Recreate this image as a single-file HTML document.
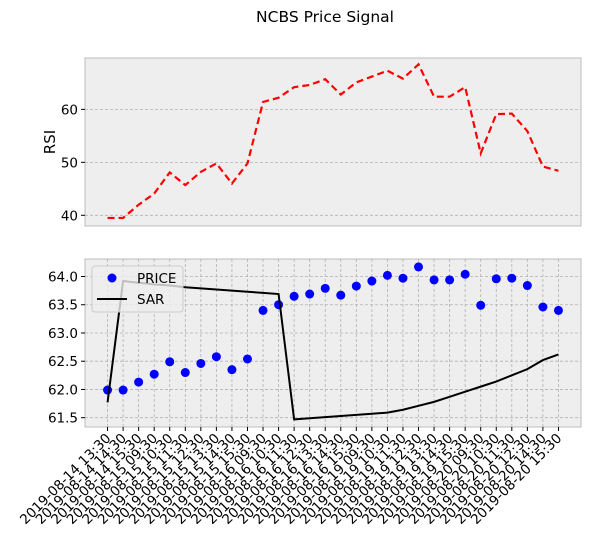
<!DOCTYPE html>
<html><head><meta charset="utf-8"><style>
body{margin:0;background:#fff;}
svg{display:block;font-family:"DejaVu Sans","Liberation Sans",sans-serif;}
</style></head><body>
<svg id="c" width="591" height="540"></svg>
<script>
const labels=["2019-08-14 13:30","2019-08-14 14:30","2019-08-14 15:30",
"2019-08-15 09:30","2019-08-15 10:30","2019-08-15 11:30","2019-08-15 12:30","2019-08-15 13:30","2019-08-15 14:30","2019-08-15 15:30",
"2019-08-16 09:30","2019-08-16 10:30","2019-08-16 11:30","2019-08-16 12:30","2019-08-16 13:30","2019-08-16 14:30","2019-08-16 15:30",
"2019-08-19 09:30","2019-08-19 10:30","2019-08-19 11:30","2019-08-19 12:30","2019-08-19 13:30","2019-08-19 14:30","2019-08-19 15:30",
"2019-08-20 09:30","2019-08-20 10:30","2019-08-20 11:30","2019-08-20 12:30","2019-08-20 14:30","2019-08-20 15:30"];
const rsi=[39.5,39.5,42.0,44.1,48.1,45.7,48.2,49.8,46.0,49.8,61.4,62.2,64.2,64.6,65.7,62.8,65.1,66.2,67.3,65.8,68.5,62.4,62.4,64.2,51.7,59.1,59.2,55.9,49.2,48.4];
const price=[61.99,61.99,62.13,62.27,62.49,62.30,62.46,62.58,62.35,62.54,63.40,63.50,63.65,63.69,63.79,63.67,63.83,63.92,64.02,63.97,64.17,63.94,63.94,64.04,63.49,63.96,63.97,63.84,63.46,63.40];
const sar=[61.77,63.92,63.89,63.86,63.84,63.81,63.79,63.77,63.75,63.73,63.71,63.69,61.47,61.49,61.51,61.53,61.55,61.57,61.59,61.64,61.71,61.78,61.87,61.96,62.05,62.14,62.25,62.36,62.52,62.62];
const rsiTicks=[40,50,60];
const priceTicks=[61.5,62.0,62.5,63.0,63.5,64.0];

const NS="http://www.w3.org/2000/svg";
const svg=document.getElementById('c');
function el(t,a,p){const e=document.createElementNS(NS,t);for(const k in a)e.setAttribute(k,a[k]);(p||svg).appendChild(e);return e;}
const L=85,R=581,n=labels.length;
const xmin=-0.05*(n-1),xmax=(n-1)*1.05;
const X=i=>L+(i-xmin)/(xmax-xmin)*(R-L);
const T1=58,B1=226,T2=259,B2=427;
const y1min=37.98,y1max=69.7,y2min=61.335,y2max=64.31;
const Y1=v=>B1-(v-y1min)/(y1max-y1min)*(B1-T1);
const Y2=v=>B2-(v-y2min)/(y2max-y2min)*(B2-T2);

let t=el('text',{x:325,y:22,'text-anchor':'middle','font-size':15.5});t.textContent='NCBS Price Signal';



let bg=el('rect',{x:L,y:T1,width:R-L,height:B1-T1,fill:'#eeeeee',stroke:'#bcbcbc'});


rsiTicks.forEach(v=>{
 el('line',{x1:L,x2:R,y1:Y1(v),y2:Y1(v),stroke:'#b2b2b2','stroke-dasharray':'3,2','stroke-width':0.8});
 el('line',{x1:L-4,x2:L,y1:Y1(v),y2:Y1(v),stroke:'#000'});
 const tt=el('text',{x:L-7,y:Y1(v)+5,'text-anchor':'end','font-size':13.5});tt.textContent=v;
 
 
});
let yl=el('text',{x:0,y:0,'text-anchor':'middle','font-size':15,transform:`translate(55,${(T1+B1)/2}) rotate(-90)`});yl.textContent='RSI';


let rp=el('polyline',{points:rsi.map((v,i)=>X(i)+','+Y1(v)).join(' '),fill:'none',stroke:'#ff0000','stroke-width':2.2,'stroke-dasharray':'7,4'});



let bg2=el('rect',{x:L,y:T2,width:R-L,height:B2-T2,fill:'#eeeeee',stroke:'#bcbcbc'});


priceTicks.forEach(v=>{
 el('line',{x1:L,x2:R,y1:Y2(v),y2:Y2(v),stroke:'#b2b2b2','stroke-dasharray':'3,2','stroke-width':0.8});
 el('line',{x1:L-4,x2:L,y1:Y2(v),y2:Y2(v),stroke:'#000'});
 const tt=el('text',{x:L-7,y:Y2(v)+5,'text-anchor':'end','font-size':13.5});tt.textContent=v.toFixed(1);
 
 
});
labels.forEach((s,i)=>{
 const x=X(i);
 el('line',{x1:x,x2:x,y1:T2,y2:B2,stroke:'#b2b2b2','stroke-dasharray':'3,2','stroke-width':0.8});
 el('line',{x1:x,x2:x,y1:B2,y2:B2+4,stroke:'#000'});
 const tt=el('text',{x:0,y:0,'text-anchor':'end','font-size':13.5,transform:`translate(${x+4},${B2+12}) rotate(-45)`});tt.textContent=s;
 
 
});
price.forEach((v,i)=>{
 const c=el('circle',{cx:X(i),cy:Y2(v),r:4.5,fill:'#0000ff'});
 
 
});
let sp=el('polyline',{points:sar.map((v,i)=>X(i)+','+Y2(v)).join(' '),fill:'none',stroke:'#000','stroke-width':2});



const lg=el('g',{});


el('rect',{x:92,y:266,width:91,height:46,rx:3,fill:'#eeeeee','fill-opacity':0.8,stroke:'#cccccc'},lg);
el('circle',{cx:112,cy:278,r:4.5,fill:'#0000ff'},lg);
let l1=el('text',{x:137,y:283,'font-size':13.5},lg);l1.textContent='PRICE';


el('line',{x1:97,x2:127,y1:299,y2:299,stroke:'#000','stroke-width':2},lg);
let l2=el('text',{x:137,y:304,'font-size':13.5},lg);l2.textContent='SAR';


</script>
</body></html>
